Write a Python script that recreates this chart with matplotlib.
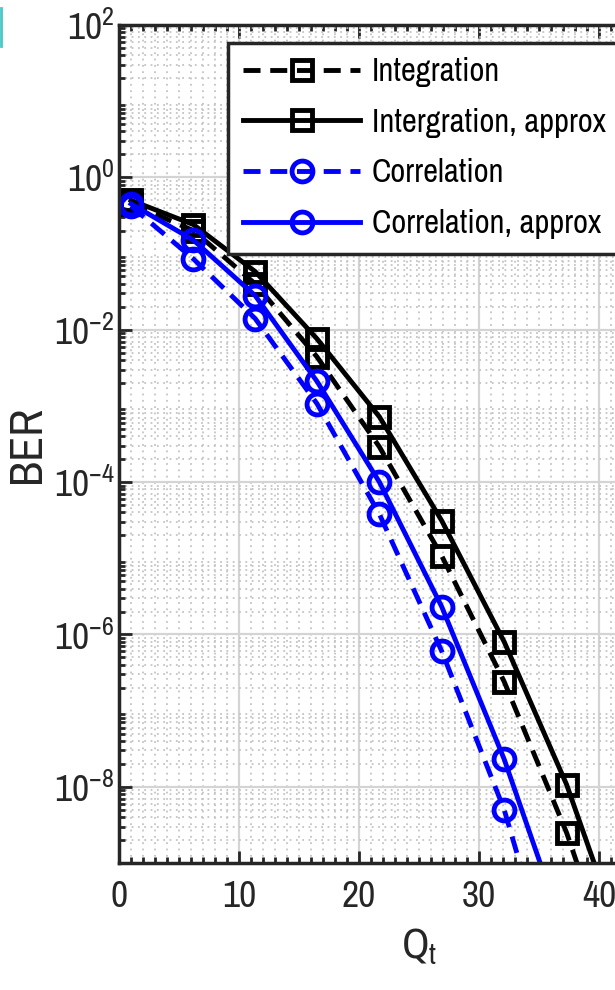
import matplotlib
matplotlib.use("Agg")
import matplotlib.pyplot as plt
from matplotlib.ticker import LogLocator, MultipleLocator, NullFormatter
from matplotlib.lines import Line2D

# values
qt = [1.0, 6.2, 11.35, 16.5, 21.7, 26.9, 32.1, 37.3, 42.5]
ber_int = [0.45, 0.2, 0.04, 4.4e-3, 2.9e-4, 1.07e-5, 2.4e-7, 2.5e-9, 1e-11]
ber_int_approx = [0.5, 0.24, 0.058, 7.6e-3, 7.2e-4, 3.1e-5, 8e-7, 1.07e-8, 5e-11]
ber_corr = [0.42, 0.085, 0.014, 1.07e-3, 3.8e-5, 6e-7, 5e-9, 8e-12, 1e-14]
ber_corr_approx = [0.45, 0.15, 0.028, 2.1e-3, 1.0e-4, 2.3e-6, 2.3e-8, 1e-10, 1e-13]
labels = ["Integration", "Intergration, approx", "Correlation", "Correlation, approx"]

# narrow sans, falls back to Liberation Sans if missing
plt.rcParams['font.family'] = ['Archivo Narrow', 'Liberation Sans', 'DejaVu Sans']

fig = plt.figure(figsize=(6.15, 9.9), dpi=100)
# axes runs past the right edge, like the cropped original
ax = fig.add_axes([119 / 615, 127 / 990, 600 / 615, 838 / 990])

lw = 3.5
ms = 14
dash = (3.5, 2)
ax.semilogy(qt, ber_int, color='k', ls='--', dashes=dash, lw=lw, marker='s',
            ms=ms, mfc='none', mew=lw, label=labels[0])
ax.semilogy(qt, ber_int_approx, color='k', ls='-', lw=lw, marker='s',
            ms=ms, mfc='none', mew=lw, label=labels[1])
ax.semilogy(qt, ber_corr, color='#0000ff', ls='--', dashes=dash, lw=lw, marker='o',
            ms=ms + 1, mfc='none', mew=lw, label=labels[2])
ax.semilogy(qt, ber_corr_approx, color='#0000ff', ls='-', lw=lw, marker='o',
            ms=ms + 1, mfc='none', mew=lw, label=labels[3])

ax.set_xlim(0, 50)
ax.set_ylim(1e-9, 1e2)
ax.set_xticks([0, 10, 20, 30, 40, 50])
ax.xaxis.set_minor_locator(MultipleLocator(1))
ax.set_yticks([1e-8, 1e-6, 1e-4, 1e-2, 1e0, 1e2])
ax.yaxis.set_minor_locator(LogLocator(base=10, subs=range(2, 10), numticks=30))
ax.yaxis.set_minor_formatter(NullFormatter())

ax.grid(True, which='major', color='#d4d4d4', lw=1.6, ls='-')
ax.grid(True, which='minor', color='#c4c4c4', lw=1.3, ls=(0, (1, 2.5)))
ax.set_axisbelow(True)

ax.tick_params(which='both', direction='in', top=True, right=True, labelsize=27,
               colors='#262626', width=2)
ax.tick_params(which='major', length=9)
ax.tick_params(which='minor', length=4)
ax.tick_params(axis='x', pad=12)
for s in ax.spines.values():
    s.set_linewidth(2.5)
    s.set_color('#262626')

ax.set_xlabel('Q$_\\mathregular{t}$', fontsize=31, color='#262626', labelpad=10)
ax.set_ylabel('BER', fontsize=33, color='#262626', labelpad=4)

leg = ax.legend(loc='upper left', bbox_to_anchor=(0.182, 0.979), borderaxespad=0,
                fontsize=23.5, handlelength=3.6, handletextpad=0.35, labelspacing=0.63,
                borderpad=0.45, fancybox=False, framealpha=1, edgecolor='#262626')
leg.get_frame().set_linewidth(2.5)

# teal sliver at the top-left corner of the crop
fig.add_artist(Line2D([0.001, 0.001], [1 - 8 / 990, 1 - 46 / 990], color='#4ac6c6', lw=2))

fig.savefig("out.png", dpi=100)
